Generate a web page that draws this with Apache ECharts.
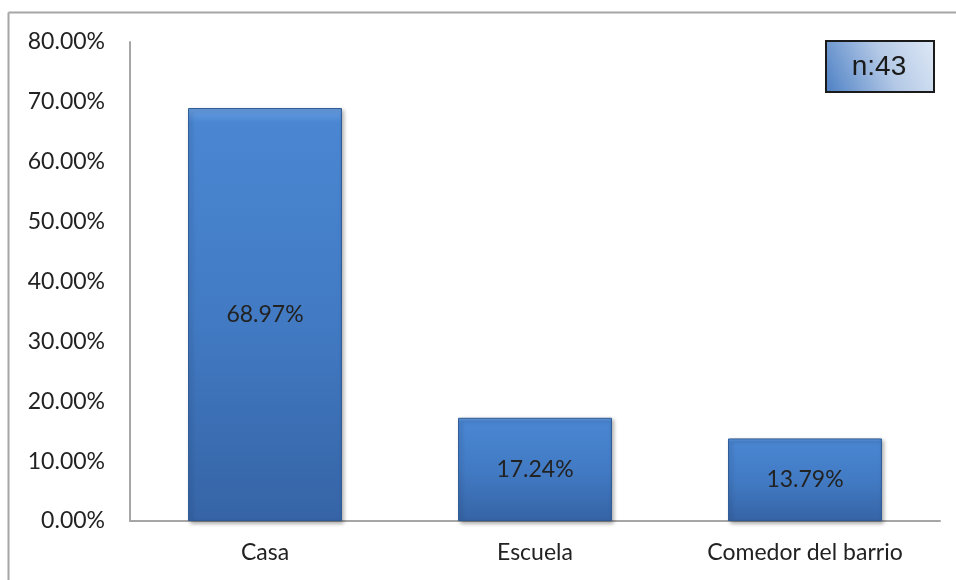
<!DOCTYPE html>
<html>
<head>
<meta charset="utf-8">
<script src="https://cdn.jsdelivr.net/npm/echarts@6/dist/echarts.min.js"></script>
<style>
  html, body { margin: 0; padding: 0; background: #fff; }
  #chart { width: 956px; height: 580px; }
</style>
</head>
<body>
<div id="chart"></div>
<script>
// Lugar donde almuerzan los niños (n = 43)
const categories = ['Casa', 'Escuela', 'Comedor del barrio'];
const percentages = [68.97, 17.24, 13.79];
const yTicks = ['0.00%', '10.00%', '20.00%', '30.00%', '40.00%', '50.00%', '60.00%', '70.00%', '80.00%'];
const sampleLabel = 'n:43';

const fontFamily = 'Lato, "Open Sans", sans-serif';

const chart = echarts.init(document.getElementById('chart'), null, { renderer: 'canvas' });

const barFill = new echarts.graphic.LinearGradient(0, 0, 0, 1, [
  { offset: 0, color: '#6aa0e2' },
  { offset: 0.035, color: '#4a86d2' },
  { offset: 0.5, color: '#427bc4' },
  { offset: 1, color: '#3664a6' }
]);

chart.setOption({
  animation: false,
  grid: { left: 130, right: 16, top: 42, bottom: 59, containLabel: false },
  xAxis: {
    type: 'category',
    data: categories,
    axisLine: { lineStyle: { color: '#a6a6a6', width: 2 } },
    axisTick: { show: false },
    axisLabel: { color: '#222', fontSize: 23, fontFamily, margin: 20 }
  },
  yAxis: {
    type: 'value',
    min: 0,
    max: 80,
    interval: 10,
    axisLine: { show: true, lineStyle: { color: '#a6a6a6', width: 2 } },
    axisTick: { show: false },
    splitLine: { show: false },
    axisLabel: {
      color: '#222', fontSize: 23, fontFamily, margin: 25,
      formatter: (v) => yTicks[Math.round(v / 10)]
    }
  },
  series: [{
    type: 'bar',
    data: percentages,
    barWidth: '57%',
    itemStyle: {
      color: barFill,
      borderColor: '#2f5a94',
      borderWidth: 1,
      shadowColor: 'rgba(0,0,0,0.35)',
      shadowBlur: 4,
      shadowOffsetX: 2,
      shadowOffsetY: 2
    },
    label: {
      show: true,
      position: 'inside',
      color: '#222',
      fontSize: 23,
      fontFamily,
      formatter: (p) => p.value.toFixed(2) + '%'
    }
  }],
  graphic: [
    // chart frame (left and top edges)
    { type: 'line', shape: { x1: 8.5, y1: 12.5, x2: 8.5, y2: 580 }, style: { stroke: '#a6a6a6', lineWidth: 2 } },
    { type: 'line', shape: { x1: 8.5, y1: 12.5, x2: 956, y2: 12.5 }, style: { stroke: '#a6a6a6', lineWidth: 2 } },
    // sample size box
    {
      type: 'rect',
      shape: { x: 826, y: 41, width: 108, height: 51 },
      style: {
        fill: new echarts.graphic.LinearGradient(0, 1, 1, 0, [
          { offset: 0, color: '#4b7fc4' },
          { offset: 0.55, color: '#b4c9e6' },
          { offset: 1, color: '#dfe9f6' }
        ]),
        stroke: '#1a1a1a',
        lineWidth: 2
      }
    },
    {
      type: 'text',
      x: 879, y: 67,
      style: {
        text: sampleLabel,
        fill: '#1a1a1a',
        font: '28px "Liberation Sans", Arial, sans-serif',
        align: 'center',
        verticalAlign: 'middle'
      }
    }
  ]
});
</script>
</body>
</html>
